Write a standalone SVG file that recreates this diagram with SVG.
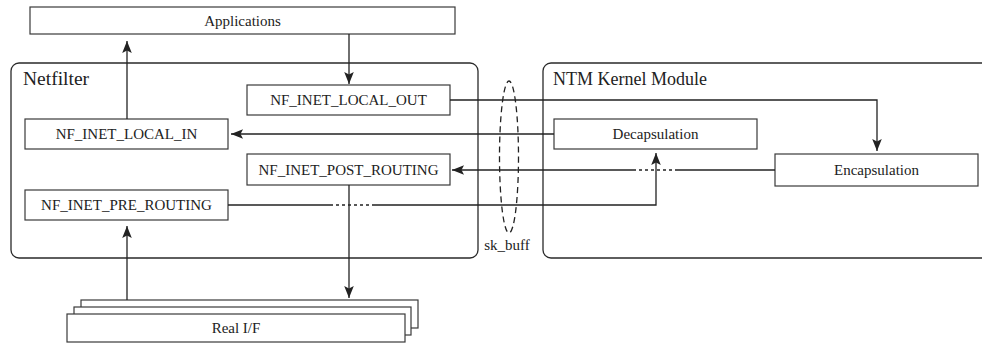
<svg xmlns="http://www.w3.org/2000/svg" width="982" height="344" viewBox="0 0 982 344">
  <style>
    .box { fill: #ffffff; stroke: #3a3a3a; stroke-width: 1.2; }
    .frame { fill: none; stroke: #2a2a2a; stroke-width: 1.3; }
    .lbl { font-family: "Liberation Serif", "Times New Roman", serif; font-size: 15px; fill: #222; text-anchor: middle; dominant-baseline: central; }
    .title { font-family: "Liberation Serif", "Times New Roman", serif; fill: #222; }
    .wire { fill: none; stroke: #222; stroke-width: 1.3; }
    .dots { fill: none; stroke: #222; stroke-width: 1.3; stroke-dasharray: 3 3; }
  </style>
  <defs>
    <marker id="head" markerUnits="userSpaceOnUse" markerWidth="14" markerHeight="12" viewBox="-13 -6 14 12" refX="0" refY="0" orient="auto">
      <path d="M0,0 L-12,-4.8 L-9.5,0 L-12,4.8 Z" fill="#222"/>
    </marker>
  </defs>

  <!-- container frames -->
  <g id="netfilter">
    <rect class="frame" x="11" y="63" width="467" height="195" rx="8"/>
    <text class="title" x="23" y="85" font-size="19.5">Netfilter</text>
  </g>
  <g id="ntm-kernel-module">
    <rect class="frame" x="543" y="63" width="460" height="195" rx="8"/>
    <text class="title" x="553" y="85" font-size="18">NTM Kernel Module</text>
  </g>

  <!-- nodes -->
  <g id="applications">
    <rect class="box" x="30" y="7" width="425" height="27"/>
    <text class="lbl" x="242.5" y="20.5" font-size="16">Applications</text>
  </g>
  <g id="nf-inet-local-out">
    <rect class="box" x="247" y="85" width="203" height="30"/>
    <text class="lbl" x="348.5" y="100">NF_INET_LOCAL_OUT</text>
  </g>
  <g id="nf-inet-local-in">
    <rect class="box" x="25" y="119" width="203" height="30"/>
    <text class="lbl" x="126.5" y="134">NF_INET_LOCAL_IN</text>
  </g>
  <g id="nf-inet-post-routing">
    <rect class="box" x="247" y="154" width="203" height="31"/>
    <text class="lbl" x="348.5" y="169.5">NF_INET_POST_ROUTING</text>
  </g>
  <g id="nf-inet-pre-routing">
    <rect class="box" x="25" y="190" width="203" height="30"/>
    <text class="lbl" x="126.5" y="205">NF_INET_PRE_ROUTING</text>
  </g>
  <g id="decapsulation">
    <rect class="box" x="554" y="119" width="203" height="30"/>
    <text class="lbl" x="655.5" y="134">Decapsulation</text>
  </g>
  <g id="encapsulation">
    <rect class="box" x="775" y="154" width="203" height="32"/>
    <text class="lbl" x="876.5" y="170">Encapsulation</text>
  </g>
  <g id="real-if">
    <rect class="box" x="81" y="300" width="337" height="28"/>
    <rect class="box" x="74" y="307" width="337" height="28"/>
    <rect class="box" x="67" y="314" width="338" height="28"/>
    <text class="lbl" x="236" y="328" font-size="16">Real I/F</text>
  </g>
  <g id="sk-buff">
    <ellipse cx="509" cy="157" rx="9.5" ry="76" fill="none" stroke="#222" stroke-width="1.3" stroke-dasharray="6 4"/>
    <text class="lbl" x="507" y="245">sk_buff</text>
  </g>

  <!-- connectors -->
  <g id="connectors">
    <path class="wire" d="M349,34 V84" marker-end="url(#head)"/>
    <path class="wire" d="M127,119 V41" marker-end="url(#head)"/>
    <path class="wire" d="M450,100 H877 V151" marker-end="url(#head)"/>
    <path class="wire" d="M554,134 H231" marker-end="url(#head)"/>
    <path class="wire" d="M775,170 H678"/>
    <path class="dots" d="M678,170 H635"/>
    <path class="wire" d="M635,170 H452" marker-end="url(#head)"/>
    <path class="wire" d="M228,205 H330"/>
    <path class="dots" d="M330,205 H372"/>
    <path class="wire" d="M372,205 H656 V153" marker-end="url(#head)"/>
    <path class="wire" d="M349,185 V298" marker-end="url(#head)"/>
    <path class="wire" d="M127,300 V226" marker-end="url(#head)"/>
  </g>
</svg>
